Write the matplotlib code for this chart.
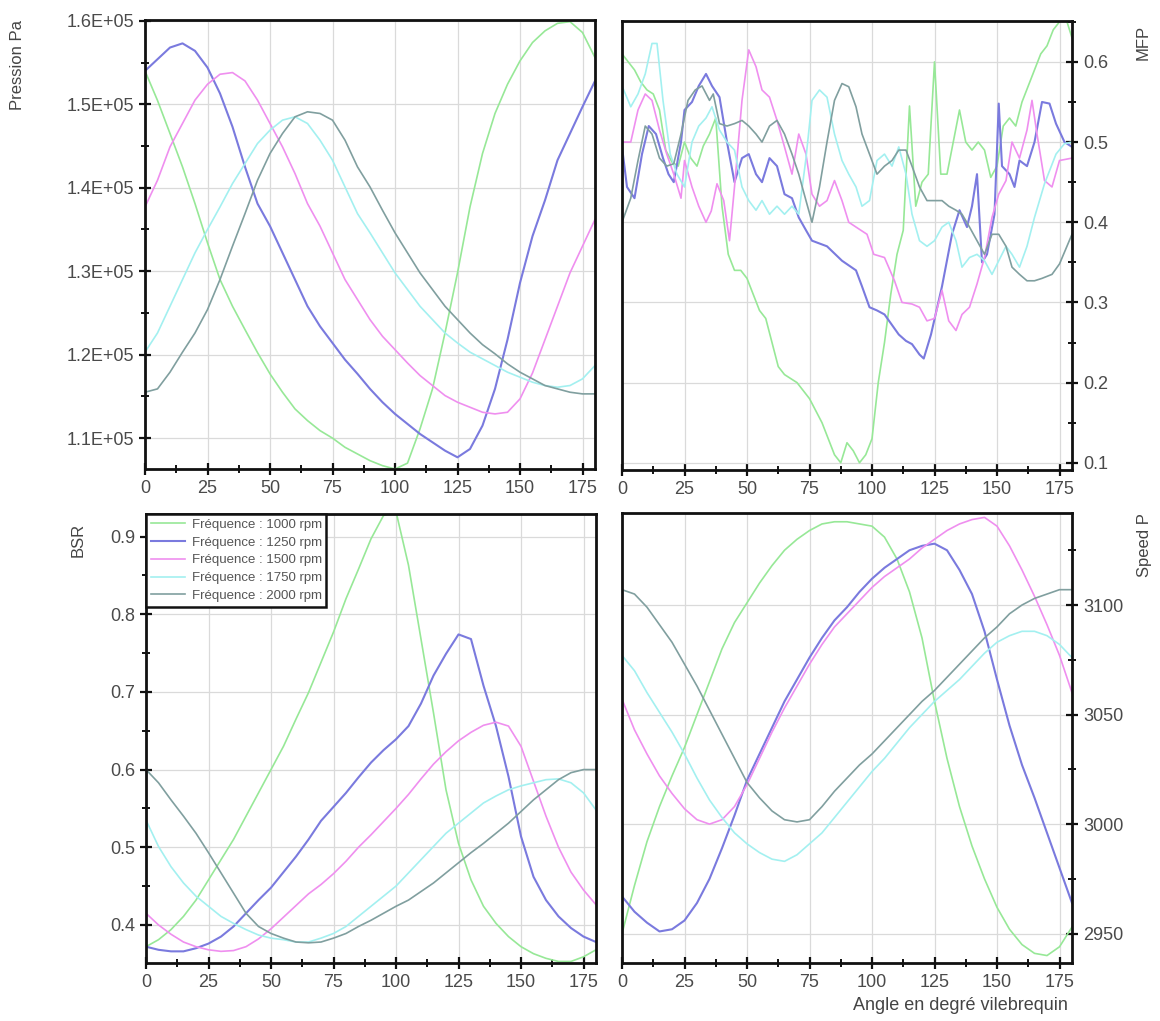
import matplotlib
matplotlib.use("Agg")
import matplotlib.pyplot as plt
from matplotlib.ticker import MultipleLocator, FuncFormatter

plt.rcParams["font.family"] = ["Liberation Sans", "DejaVu Sans"]

# ---------------- data ----------------
labels = ["Fréquence : 1000 rpm", "Fréquence : 1250 rpm", "Fréquence : 1500 rpm",
          "Fréquence : 1750 rpm", "Fréquence : 2000 rpm"]
colors = ["#97e897", "#7a7ade", "#ef8fef", "#a3f0f0", "#809f9f"]

angle = [0, 5, 10, 15, 20, 25, 30, 35, 40, 45, 50, 55, 60, 65, 70, 75, 80, 85, 90,
         95, 100, 105, 110, 115, 120, 125, 130, 135, 140, 145, 150, 155, 160, 165,
         170, 175, 180]

# Pression Pa
p_1000 = [154000, 150460, 146500, 142500, 138100, 133400, 129000, 125800, 123000, 120250,
          117700, 115500, 113500, 112100, 110900, 110000, 108900, 108100, 107300, 106700,
          106300, 107000, 111100, 115900, 122600, 129800, 137700, 144100, 148900, 152400,
          155200, 157400, 158800, 159700, 159900, 158600, 155600]
p_1250 = [154000, 155400, 156800, 157300, 156400, 154400, 151300, 147300, 142500, 138100,
          135400, 132200, 129000, 125800, 123400, 121400, 119400, 117700, 115900, 114300,
          112900, 111700, 110500, 109500, 108500, 107700, 108700, 111500, 115900, 121800,
          128600, 134200, 138500, 143300, 146500, 149700, 152800]
p_1500 = [137700, 140900, 144900, 147700, 150500, 152400, 153600, 153800, 152800, 150500,
          147700, 144900, 141700, 138100, 135400, 132200, 129000, 126600, 124200, 122200,
          120600, 119000, 117500, 116300, 115100, 114300, 113700, 113100, 112900, 113100,
          114700, 117800, 121800, 125800, 129800, 133000, 136200]
p_1750 = [120300, 122600, 125800, 129000, 132200, 135000, 137700, 140500, 142900, 145300,
          146900, 148100, 148500, 147700, 145700, 143300, 140100, 136900, 134600, 132200,
          129800, 127800, 125800, 124200, 122600, 121400, 120300, 119500, 118700, 117900,
          117300, 116700, 116300, 116100, 116300, 117100, 118700]
p_2000 = [115500, 115900, 117900, 120300, 122600, 125400, 129000, 133000, 136900, 140900,
          144100, 146500, 148500, 149100, 148900, 148100, 145700, 142500, 140100, 137300,
          134600, 132200, 129800, 127800, 125800, 124200, 122600, 121200, 120100, 118900,
          117900, 117100, 116300, 115900, 115500, 115300, 115300]

# BSR
b_1000 = [0.372, 0.381, 0.394, 0.411, 0.432, 0.458, 0.484, 0.510, 0.540, 0.570, 0.600,
          0.630, 0.665, 0.699, 0.738, 0.777, 0.820, 0.858, 0.897, 0.927, 0.932, 0.863,
          0.768, 0.673, 0.574, 0.505, 0.458, 0.424, 0.402, 0.385, 0.372, 0.363, 0.357,
          0.353, 0.353, 0.359, 0.368]
b_1250 = [0.372, 0.368, 0.366, 0.366, 0.370, 0.376, 0.385, 0.398, 0.415, 0.432, 0.448,
          0.468, 0.488, 0.510, 0.534, 0.552, 0.570, 0.590, 0.609, 0.625, 0.639, 0.656,
          0.685, 0.721, 0.749, 0.774, 0.768, 0.708, 0.656, 0.591, 0.514, 0.462, 0.432,
          0.411, 0.396, 0.385, 0.378]
b_1500 = [0.415, 0.400, 0.388, 0.378, 0.372, 0.368, 0.366, 0.367, 0.372, 0.382, 0.395,
          0.410, 0.425, 0.440, 0.452, 0.466, 0.482, 0.500, 0.516, 0.533, 0.550, 0.568,
          0.588, 0.607, 0.623, 0.637, 0.648, 0.657, 0.661, 0.656, 0.630, 0.585, 0.540,
          0.500, 0.468, 0.445, 0.426]
b_1750 = [0.535, 0.501, 0.475, 0.454, 0.437, 0.424, 0.411, 0.402, 0.394, 0.387, 0.383,
          0.381, 0.378, 0.378, 0.383, 0.389, 0.398, 0.411, 0.424, 0.437, 0.450, 0.467,
          0.484, 0.501, 0.518, 0.531, 0.544, 0.557, 0.566, 0.574, 0.579, 0.583, 0.587,
          0.588, 0.583, 0.570, 0.548]
b_2000 = [0.600, 0.583, 0.561, 0.540, 0.518, 0.493, 0.467, 0.441, 0.415, 0.398, 0.389,
          0.383, 0.378, 0.377, 0.378, 0.383, 0.389, 0.398, 0.406, 0.415, 0.424, 0.432,
          0.443, 0.454, 0.467, 0.480, 0.493, 0.505, 0.518, 0.531, 0.546, 0.561, 0.574,
          0.587, 0.596, 0.600, 0.600]

# Speed P
s_1000 = [2950, 2972, 2992, 3008, 3022, 3035, 3050, 3065, 3080, 3092, 3101, 3110, 3118,
          3125, 3130, 3134, 3137, 3138, 3138, 3137, 3136, 3131, 3121, 3106, 3085, 3056,
          3030, 3008, 2990, 2975, 2962, 2952, 2945, 2941, 2940, 2944, 2953]
s_1250 = [2967, 2960, 2955, 2951, 2952, 2956, 2964, 2975, 2989, 3004, 3020, 3032, 3044,
          3056, 3066, 3076, 3085, 3093, 3099, 3106, 3112, 3117, 3121, 3125, 3127, 3128,
          3125, 3116, 3105, 3088, 3066, 3045, 3027, 3012, 2996, 2980, 2964]
s_1500 = [3057, 3043, 3032, 3022, 3014, 3007, 3002, 3000, 3002, 3008, 3018, 3030, 3042,
          3053, 3063, 3073, 3082, 3090, 3096, 3102, 3108, 3113, 3117, 3121, 3126, 3130,
          3134, 3137, 3139, 3140, 3136, 3127, 3116, 3104, 3091, 3077, 3060]
s_1750 = [3077, 3070, 3060, 3051, 3042, 3032, 3021, 3011, 3003, 2996, 2991, 2987, 2984,
          2983, 2986, 2991, 2996, 3003, 3010, 3017, 3024, 3030, 3037, 3044, 3050, 3056,
          3061, 3066, 3072, 3078, 3083, 3086, 3088, 3088, 3086, 3082, 3076]
s_2000 = [3107, 3105, 3099, 3091, 3083, 3073, 3063, 3052, 3041, 3030, 3019, 3012, 3006,
          3002, 3001, 3002, 3008, 3015, 3021, 3027, 3032, 3038, 3044, 3050, 3056, 3061,
          3067, 3073, 3079, 3085, 3090, 3096, 3100, 3103, 3105, 3107, 3107]

# MFP (noisy, irregular sampling)
m_1000_x = [0, 2.5, 5, 7.5, 10, 12.5, 15, 17.5, 20, 22.5, 25, 27.5, 30, 32.5, 35, 37.5,
            40, 42.5, 45, 47.5, 50, 52.5, 55, 57.5, 60, 62.5, 65, 67.5, 70, 72.5, 75,
            77.5, 80, 82.5, 85, 87.5, 90, 92.5, 95, 97.5, 100, 102.5, 105, 107.5, 110,
            112.5, 115, 117.5, 120, 122.5, 125, 127.5, 130, 132.5, 135, 137.5, 140,
            142.5, 145, 147.5, 150, 152.5, 155, 157.5, 160, 162.5, 165, 167.5, 170,
            172.5, 175, 177.5, 180]
m_1000_y = [0.61, 0.60, 0.59, 0.575, 0.565, 0.56, 0.54, 0.49, 0.475, 0.47, 0.50, 0.48,
            0.47, 0.495, 0.51, 0.53, 0.42, 0.36, 0.34, 0.34, 0.33, 0.31, 0.29, 0.28, 0.25,
            0.22, 0.21, 0.205, 0.20, 0.19, 0.18, 0.165, 0.15, 0.13, 0.11, 0.10, 0.125,
            0.115, 0.10, 0.11, 0.13, 0.20, 0.25, 0.31, 0.36, 0.39, 0.545, 0.42, 0.45,
            0.46, 0.60, 0.46, 0.46, 0.50, 0.54, 0.50, 0.49, 0.50, 0.49, 0.456, 0.47,
            0.52, 0.53, 0.52, 0.55, 0.57, 0.59, 0.61, 0.62, 0.64, 0.65, 0.655, 0.63]
m_1250_x = [0, 2, 5, 8, 10.7, 13.6, 16.4, 18.6, 20.7, 23.6, 25, 28, 30.7, 33.6, 36, 39,
            42, 45, 48, 50.7, 53.6, 56, 59, 62, 65, 68, 70.7, 73.6, 76, 82, 88, 93.6, 96,
            99, 102, 105, 110.7, 113.6, 116, 119, 120.7, 123.6, 128, 132, 135, 138, 140,
            142, 144, 146, 149, 150.7, 152, 155, 157, 159, 162, 165, 168, 171, 173.6,
            177, 180]
m_1250_y = [0.494, 0.444, 0.43, 0.485, 0.52, 0.51, 0.48, 0.46, 0.45, 0.50, 0.54, 0.55,
            0.57, 0.585, 0.57, 0.556, 0.50, 0.45, 0.48, 0.485, 0.46, 0.45, 0.48, 0.47,
            0.435, 0.43, 0.406, 0.39, 0.377, 0.37, 0.352, 0.34, 0.32, 0.294, 0.29, 0.285,
            0.26, 0.252, 0.248, 0.235, 0.23, 0.26, 0.32, 0.385, 0.415, 0.394, 0.42, 0.46,
            0.35, 0.36, 0.41, 0.548, 0.47, 0.46, 0.444, 0.477, 0.47, 0.50, 0.55, 0.548,
            0.523, 0.50, 0.494]
m_1500_x = [0, 3.5, 6.4, 9.3, 12, 15, 17.9, 20.7, 23.6, 25, 28, 30.7, 33.6, 35.7, 38,
            40.7, 43, 45, 48, 50.7, 53.6, 56, 59, 62, 65, 68, 70.7, 73.6, 76, 79, 82, 85,
            88, 90.7, 93.6, 98, 100.7, 105, 109, 112, 116, 119, 122, 125, 128, 130.7,
            133.6, 136, 139, 142, 145, 148, 150.7, 153.6, 156, 159, 162, 164, 166, 169,
            172, 175, 180]
m_1500_y = [0.50, 0.50, 0.54, 0.56, 0.552, 0.515, 0.485, 0.46, 0.43, 0.477, 0.444, 0.42,
            0.40, 0.414, 0.448, 0.427, 0.377, 0.444, 0.552, 0.615, 0.594, 0.565, 0.556,
            0.527, 0.494, 0.46, 0.51, 0.485, 0.435, 0.42, 0.427, 0.452, 0.427, 0.40,
            0.394, 0.385, 0.36, 0.356, 0.327, 0.30, 0.298, 0.294, 0.277, 0.28, 0.315,
            0.277, 0.265, 0.285, 0.294, 0.323, 0.356, 0.406, 0.435, 0.452, 0.50, 0.48,
            0.515, 0.552, 0.51, 0.452, 0.444, 0.477, 0.48]
m_1750_x = [0, 3.5, 6.4, 9.3, 12, 14, 16.4, 19.3, 22, 25, 28, 30.7, 33.6, 36, 39, 42, 45,
            48, 50.7, 53.6, 56, 59, 62, 65, 68, 70.7, 73.6, 76, 79, 82, 85, 88, 90.7,
            93.6, 96, 99, 102, 105, 108, 110.7, 113.6, 116, 119, 122, 125, 128, 130.7,
            133.6, 136, 139, 142, 145, 148, 150.7, 153.6, 156, 159, 162, 165, 169, 173.6,
            177, 180]
m_1750_y = [0.57, 0.544, 0.56, 0.585, 0.623, 0.623, 0.552, 0.485, 0.46, 0.444, 0.50,
            0.52, 0.53, 0.544, 0.515, 0.50, 0.49, 0.444, 0.427, 0.415, 0.427, 0.41, 0.42,
            0.41, 0.42, 0.41, 0.48, 0.552, 0.565, 0.556, 0.51, 0.477, 0.46, 0.444, 0.42,
            0.427, 0.477, 0.485, 0.47, 0.494, 0.46, 0.41, 0.377, 0.37, 0.377, 0.394,
            0.40, 0.377, 0.344, 0.356, 0.36, 0.352, 0.335, 0.352, 0.37, 0.36, 0.344,
            0.37, 0.406, 0.448, 0.485, 0.498, 0.50]
m_2000_x = [0, 3.5, 6.4, 9.3, 12, 15, 17.9, 20.7, 23.6, 26.4, 29.3, 32, 35, 36.5, 39,
            42, 45, 48, 50.7, 53.6, 56, 59, 62, 65, 68, 70.7, 73.6, 76, 79, 82, 85, 88,
            90.7, 93.6, 96, 99, 102, 105, 108, 110.7, 113.6, 116, 119, 122, 125, 128,
            130.7, 133.6, 136, 139, 142, 145, 148, 150.7, 153.6, 156, 159, 162, 165, 168,
            172, 175, 180]
m_2000_y = [0.40, 0.43, 0.477, 0.52, 0.51, 0.48, 0.47, 0.473, 0.51, 0.552, 0.565, 0.57,
            0.552, 0.56, 0.523, 0.52, 0.523, 0.527, 0.52, 0.51, 0.50, 0.52, 0.527, 0.51,
            0.485, 0.46, 0.427, 0.40, 0.444, 0.50, 0.552, 0.573, 0.569, 0.544, 0.51,
            0.485, 0.46, 0.47, 0.477, 0.49, 0.49, 0.47, 0.444, 0.427, 0.427, 0.427, 0.42,
            0.415, 0.41, 0.394, 0.377, 0.36, 0.385, 0.385, 0.37, 0.344, 0.335, 0.327,
            0.327, 0.33, 0.335, 0.348, 0.385]

pressure = [p_1000, p_1250, p_1500, p_1750, p_2000]
bsr = [b_1000, b_1250, b_1500, b_1750, b_2000]
speed = [s_1000, s_1250, s_1500, s_1750, s_2000]
mfp = [(m_1000_x, m_1000_y), (m_1250_x, m_1250_y), (m_1500_x, m_1500_y),
       (m_1750_x, m_1750_y), (m_2000_x, m_2000_y)]
widths = [1.2, 1.5, 1.2, 1.2, 1.2]

# ---------------- figure ----------------
W, H = 1160, 1021
fig = plt.figure(figsize=(W / 100, H / 100), dpi=100)


def box(x0, y0, x1, y1):
    return [x0 / W, 1 - y1 / H, (x1 - x0) / W, (y1 - y0) / H]


ax_p = fig.add_axes(box(145, 20, 595, 469))
ax_m = fig.add_axes(box(622, 21, 1072, 470))
ax_b = fig.add_axes(box(146, 514, 596, 963))
ax_s = fig.add_axes(box(622, 513, 1072, 963))

tick_col = "#4a4a4a"


def style(ax, right=False):
    ax.set_xlim(0, 180)
    ax.xaxis.set_major_locator(MultipleLocator(25))
    ax.xaxis.set_minor_locator(MultipleLocator(12.5))
    for s in ax.spines.values():
        s.set_linewidth(2.0)
        s.set_color("#111111")
    ax.tick_params(which="major", direction="inout", length=9, width=1.6,
                   color="#111111", labelsize=13, labelcolor=tick_col)
    ax.tick_params(which="minor", direction="inout", length=6, width=1.4,
                   color="#111111")
    if right:
        ax.yaxis.tick_right()
        ax.tick_params(which="both", left=False, right=True)
    ax.grid(True, which="major", color="#dadada", linewidth=0.9)
    ax.set_axisbelow(True)


for ax, right in [(ax_p, False), (ax_m, True), (ax_b, False), (ax_s, True)]:
    style(ax, right)

for i in range(5):
    ax_p.plot(angle, pressure[i], color=colors[i], lw=widths[i])
    ax_m.plot(mfp[i][0], mfp[i][1], color=colors[i], lw=widths[i])
    ax_b.plot(angle, bsr[i], color=colors[i], lw=widths[i], label=labels[i])
    ax_s.plot(angle, speed[i], color=colors[i], lw=widths[i])

ax_p.set_ylim(106300, 160100)
ax_p.yaxis.set_major_locator(MultipleLocator(10000))
ax_p.yaxis.set_minor_locator(MultipleLocator(5000))
ax_p.yaxis.set_major_formatter(FuncFormatter(lambda v, p: f"{v / 1e5:.1f}E+05"))

ax_m.set_ylim(0.091, 0.651)
ax_m.yaxis.set_major_locator(MultipleLocator(0.1))
ax_m.yaxis.set_minor_locator(MultipleLocator(0.05))
ax_m.yaxis.set_major_formatter(FuncFormatter(lambda v, p: f"{v:.1f}"))

ax_b.set_ylim(0.351, 0.929)
ax_b.yaxis.set_major_locator(MultipleLocator(0.1))
ax_b.yaxis.set_minor_locator(MultipleLocator(0.05))
ax_b.yaxis.set_major_formatter(FuncFormatter(lambda v, p: f"{v:.1f}"))

ax_s.set_ylim(2936.6, 3142)
ax_s.yaxis.set_major_locator(MultipleLocator(50))
ax_s.yaxis.set_minor_locator(MultipleLocator(25))

leg = ax_b.legend(loc="upper left", fontsize=9.5, frameon=True, fancybox=False,
                  borderaxespad=0.0, handlelength=2.6, labelspacing=0.42,
                  borderpad=0.35, handletextpad=0.5, framealpha=1.0)
leg.get_frame().set_edgecolor("#111111")
leg.get_frame().set_linewidth(1.8)
for t in leg.get_texts():
    t.set_color("#555555")

lab_col = "#444444"
fig.text(18 / W, 1 - 65 / H, "Pression Pa", rotation=90, ha="center", va="center",
         fontsize=12, color=lab_col)
fig.text(1143 / W, 1 - 42 / H, "MFP", rotation=90, ha="center", va="center",
         fontsize=12, color=lab_col)
fig.text(78 / W, 1 - 540 / H, "BSR", rotation=90, ha="center", va="center",
         fontsize=12, color=lab_col)
fig.text(1145 / W, 1 - 545 / H, "Speed P", rotation=90, ha="center", va="center",
         fontsize=12, color=lab_col)
fig.text(1068 / W, 1 - 1005 / H, "Angle en degré vilebrequin", ha="right",
         va="center", fontsize=13, color=lab_col)

fig.savefig("out.png", dpi=100)
